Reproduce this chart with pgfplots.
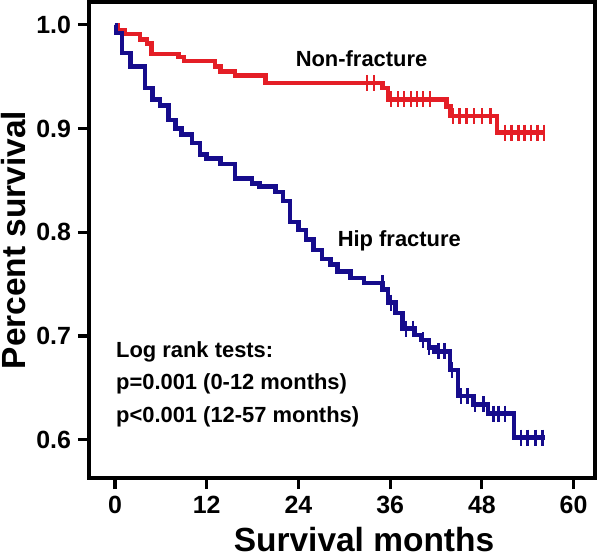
\documentclass[border=0pt]{standalone}
\usepackage{fontspec}
\setmainfont{Liberation Sans}
\usepackage{pgfplots}
\pgfplotsset{compat=1.18}
\definecolor{nfred}{RGB}{228,30,38}
\definecolor{hfblue}{RGB}{22,12,140}

\begin{document}
\begin{tikzpicture}
\begin{axis}[
    scale only axis,
    width=253bp, height=238bp,
    xmin=-3.4, xmax=62.8,
    ymin=0.563, ymax=1.022,
    xtick={0,12,24,36,48,60},
    ytick={0.6,0.7,0.8,0.9,1.0},
    xtick pos=left, ytick pos=left,
    tick align=outside,
    major tick length=5.5bp,
    axis line style={line width=1.6bp},
    every tick/.style={black, line width=1.6bp},
    /pgf/number format/assume math mode=true,
    yticklabel style={/pgf/number format/.cd, fixed, fixed zerofill, precision=1},
    ticklabel style={font=\fontsize{12.5}{15}\selectfont\bfseries},
    xlabel={Survival months}, ylabel={Percent survival},
    label style={font=\fontsize{16.8}{20}\selectfont\bfseries},
    xlabel style={at={(axis description cs:0.5435,-0.13)}, anchor=center},
    ylabel style={at={(axis description cs:-0.15,0.5)}, anchor=center},
  ]
  % Non-fracture
  \addplot[const plot, nfred, line width=2.25bp] coordinates {
      (0,1.0) (0.3,0.995) (1.3,0.991) (3.3,0.986) (4.2,0.982) (4.8,0.972)
      (8.3,0.969) (9.0,0.965) (13.1,0.960) (13.8,0.955) (15.7,0.951)
      (19.7,0.944) (35.0,0.939) (35.7,0.928) (43.4,0.921) (43.9,0.912)
      (50.0,0.896) (56.3,0.896)
    };
  \addplot[only marks, mark=|, mark size=4bp, nfred, mark options={line width=1.25bp}] coordinates {
      (33.0,0.944) (33.9,0.944)
      (36.1,0.928) (37.0,0.928) (37.8,0.928) (38.7,0.928) (39.5,0.928) (40.3,0.928) (41.2,0.928)
      (44.2,0.912) (45.1,0.912) (46.0,0.912) (47.0,0.912) (48.0,0.912) (49.1,0.912)
      (51.0,0.896) (51.9,0.896) (52.8,0.896) (53.6,0.896) (54.4,0.896) (55.3,0.896) (56.1,0.896)
    };
  % Hip fracture
  \addplot[const plot, hfblue, line width=2.25bp] coordinates {
      (0,1.0) (0.1,0.992) (0.9,0.973) (2.0,0.960) (3.9,0.939) (4.9,0.928)
      (5.9,0.922) (7.0,0.908) (7.9,0.900) (8.7,0.894) (10.1,0.886)
      (11.1,0.875) (12.0,0.871) (13.8,0.866) (15.7,0.852) (17.9,0.847)
      (18.9,0.844) (21.0,0.839) (22.0,0.830) (22.9,0.810) (24.0,0.802)
      (25.0,0.793) (26.0,0.783) (27.1,0.774) (28.2,0.769) (29.1,0.762)
      (30.8,0.756) (32.6,0.751) (35.0,0.745) (35.7,0.732) (36.7,0.722)
      (37.6,0.707) (39.2,0.701) (40.1,0.696) (41.1,0.689) (41.8,0.685)
      (43.8,0.667) (44.9,0.642) (46.9,0.634) (48.8,0.625) (52.2,0.602)
      (56.2,0.602)
    };
  \addplot[only marks, mark=|, mark size=4bp, hfblue, mark options={line width=1.25bp}] coordinates {
      (35.0,0.751) (36.1,0.732) (38.1,0.707) (39.0,0.707) (40.3,0.696)
      (41.1,0.689) (42.3,0.685) (43.1,0.685) (44.1,0.667) (45.3,0.642)
      (46.1,0.642) (47.1,0.634) (48.2,0.634) (49.5,0.625) (50.2,0.625)
      (51.0,0.625) (53.1,0.602) (54.0,0.602) (55.0,0.602) (55.9,0.602)
    };
  \node[anchor=base west, inner sep=0pt, font=\fontsize{11}{13}\selectfont\bfseries]
    at (axis cs:23.6,0.9595) {Non-fracture};
  \node[anchor=base west, inner sep=0pt, font=\fontsize{11}{13}\selectfont\bfseries]
    at (axis cs:29.1,0.786) {Hip fracture};
  \node[anchor=base west, inner sep=0pt, font=\fontsize{11}{13}\selectfont\bfseries]
    at (axis cs:0.1,0.679) {Log rank tests:};
  \node[anchor=base west, inner sep=0pt, font=\fontsize{11}{13}\selectfont\bfseries]
    at (axis cs:0.1,0.648) {p=0.001 (0-12 months)};
  \node[anchor=base west, inner sep=0pt, font=\fontsize{11}{13}\selectfont\bfseries]
    at (axis cs:0.1,0.617) {p<0.001 (12-57 months)};
\end{axis}
\pgfresetboundingbox
\path[use as bounding box] (-44.5bp,-40bp) rectangle (255.5bp,239bp);
\end{tikzpicture}
\end{document}
